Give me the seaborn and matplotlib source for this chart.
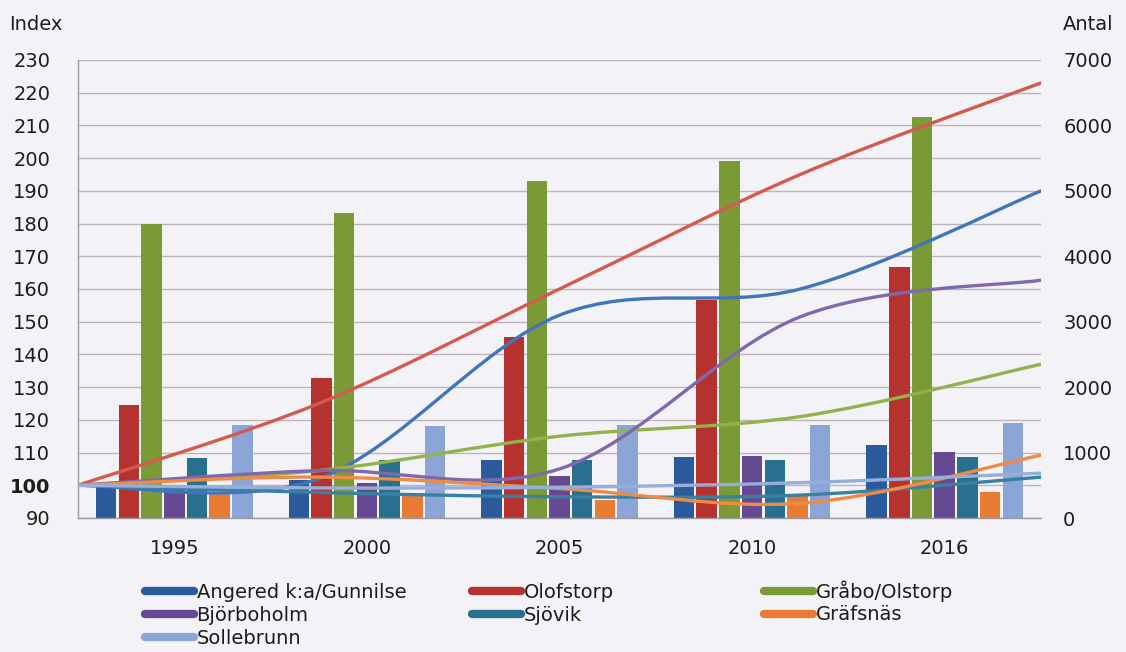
import numpy as np
import pandas as pd
import matplotlib
matplotlib.use("Agg")
import matplotlib.pyplot as plt
from matplotlib.path import Path
from matplotlib.patches import PathPatch
from matplotlib.lines import Line2D
import seaborn as sns

# ---------------- data ----------------
years = ["1995", "2000", "2005", "2010", "2016"]
areas = ["Angered k:a/Gunnilse", "Olofstorp", "Gråbo/Olstorp", "Björboholm",
         "Sjövik", "Gräfsnäs", "Sollebrunn"]

# bars: Antal (right axis)
antal_angered = [470, 585, 886, 937, 1116]
antal_olofstorp = [1727, 2135, 2771, 3330, 3831]
antal_grabo = [4493, 4657, 5155, 5461, 6124]
antal_bjorboholm = [470, 530, 647, 948, 1013]
antal_sjovik = [922, 886, 886, 886, 937]
antal_grafsnas = [380, 377, 275, 351, 402]
antal_sollebrunn = [1421, 1411, 1421, 1421, 1457]

# lines: Index (left axis), 1995 = 100
index_angered = [100, 102, 152, 160, 190]
index_olofstorp = [100, 125, 160, 195, 223]
index_grabo = [100, 104.5, 115, 121, 137]
index_bjorboholm = [100, 104.5, 105, 151.5, 162.7]
index_sjovik = [100, 97.8, 96.5, 97, 102.5]
index_grafsnas = [100, 102.5, 99, 94.5, 109.2]
index_sollebrunn = [100, 99.2, 99.4, 100.8, 103.7]

index_ticks = list(range(90, 231, 10))
antal_ticks = list(range(0, 7001, 1000))

bar_colors = ["#2b5b9b", "#b5322f", "#7a9a36", "#654a92", "#29708e", "#e97c35", "#8ba6d6"]
line_colors = ["#4175bb", "#d25b4d", "#93b24c", "#8069ab", "#3a80a2", "#ef8a47", "#97aedb"]

antal = [antal_angered, antal_olofstorp, antal_grabo, antal_bjorboholm,
         antal_sjovik, antal_grafsnas, antal_sollebrunn]
index = [index_angered, index_olofstorp, index_grabo, index_bjorboholm,
         index_sjovik, index_grafsnas, index_sollebrunn]

df = pd.DataFrame([(y, a, v) for a, vals in zip(areas, antal) for y, v in zip(years, vals)],
                  columns=["year", "area", "antal"])

# ---------------- style ----------------
bg = "#f3f2f7"
grid_c = "#bfb4bd"
spine_c = "#9c9a9e"
txt_c = "#1c1c1c"
FS = 14

sns.set_theme(style="white")
plt.rcParams["font.family"] = ["DejaVu Sans"]
plt.rcParams["text.color"] = txt_c

W, H = 1126, 652
fig = plt.figure(figsize=(W / 100, H / 100), dpi=100, facecolor=bg)
rect = [78 / W, 1 - 518 / H, (1041 - 78) / W, (518 - 60) / H]

# bar axes (right scale)
ax = fig.add_axes(rect)
ax.set_facecolor(bg)
sns.barplot(data=df, x="year", y="antal", hue="area", hue_order=areas, order=years,
            palette=bar_colors, width=0.825, gap=0.1, saturation=1, errorbar=None,
            linewidth=0, legend=False, ax=ax, zorder=2)
ax.set_xlim(-0.5, len(years) - 0.5)
ax.set_ylim(0, 7000)
ax.set_xlabel("")
ax.set_ylabel("")
ax.yaxis.tick_right()
ax.set_yticks(antal_ticks)
ax.set_yticklabels([str(t) for t in antal_ticks])
ax.set_yticks(np.arange(0, 7001, 500), minor=True)
ax.tick_params(axis="y", which="both", length=0, pad=16, labelsize=FS, labelcolor=txt_c)
ax.grid(axis="y", which="both", color=grid_c, linewidth=1.0, zorder=0)
ax.set_axisbelow(True)
ax.set_xticks(range(len(years)))
ax.set_xticklabels(years)
ax.set_xticks(np.arange(-0.5, len(years), 1.0), minor=True)
ax.tick_params(axis="x", which="major", length=0, pad=15, labelsize=FS, labelcolor=txt_c)
ax.tick_params(axis="x", which="minor", length=6, width=1, color=spine_c, direction="out")
for s in ["top", "right"]:
    ax.spines[s].set_visible(False)
for s in ["left", "bottom"]:
    ax.spines[s].set_color(spine_c)
    ax.spines[s].set_linewidth(1.0)

# line axes (left scale)
axl = fig.add_axes(rect, frameon=False)
axl.patch.set_alpha(0)
axl.set_xlim(0, len(years) - 1)
axl.set_ylim(90, 230)
axl.set_xticks([])
axl.set_yticks(index_ticks)
axl.set_yticklabels([str(t) for t in index_ticks])
axl.tick_params(axis="y", which="major", length=6, width=1, color=spine_c, direction="out",
                pad=14, labelsize=FS, labelcolor=txt_c)
for lab in axl.get_yticklabels():
    if lab.get_text() == "100":
        lab.set_fontweight("bold")


def smooth_path(xs, ys):
    pts = np.column_stack([xs, ys]).astype(float)
    n = len(pts)
    ext = np.vstack([pts[0], pts, pts[-1]])
    verts = [pts[0]]
    codes = [Path.MOVETO]
    for i in range(n - 1):
        p0, p1, p2, p3 = ext[i], ext[i + 1], ext[i + 2], ext[i + 3]
        c1 = p1 + (p2 - p0) / 6.0
        c2 = p2 - (p3 - p1) / 6.0
        verts += [c1, c2, p2]
        codes += [Path.CURVE4] * 3
    return Path(verts, codes)


xpos = np.arange(len(years))
for vals, c in zip(index, line_colors):
    patch = PathPatch(smooth_path(xpos, vals), facecolor="none", edgecolor=c,
                      linewidth=2.4, capstyle="round", joinstyle="round", zorder=3)
    axl.add_patch(patch)

# axis titles
fig.text(9 / W, 1 - 25 / H, "Index", ha="left", va="center", fontsize=FS, color=txt_c)
fig.text(1063 / W, 1 - 25 / H, "Antal", ha="left", va="center", fontsize=FS, color=txt_c)

# legend in three columns (rows aligned by fixed row centres)
handles = [Line2D([0], [0], color=c, lw=6, solid_capstyle="round") for c in bar_colors]
cols = [([0, 3, 6], 145, 583), ([1, 4], 472, 583), ([2, 5], 764, 580)]
for idxs, x0, y0 in cols:
    leg = fig.legend([handles[i] for i in idxs], [areas[i] for i in idxs],
                     loc="upper left", bbox_to_anchor=(x0 / W, 1 - y0 / H),
                     frameon=False, fontsize=FS, handlelength=2.5, handletextpad=0.15,
                     labelspacing=0.2, borderpad=0, borderaxespad=0)
    for t in leg.get_texts():
        t.set_color(txt_c)

fig.savefig("out.png", dpi=100, facecolor=bg)
